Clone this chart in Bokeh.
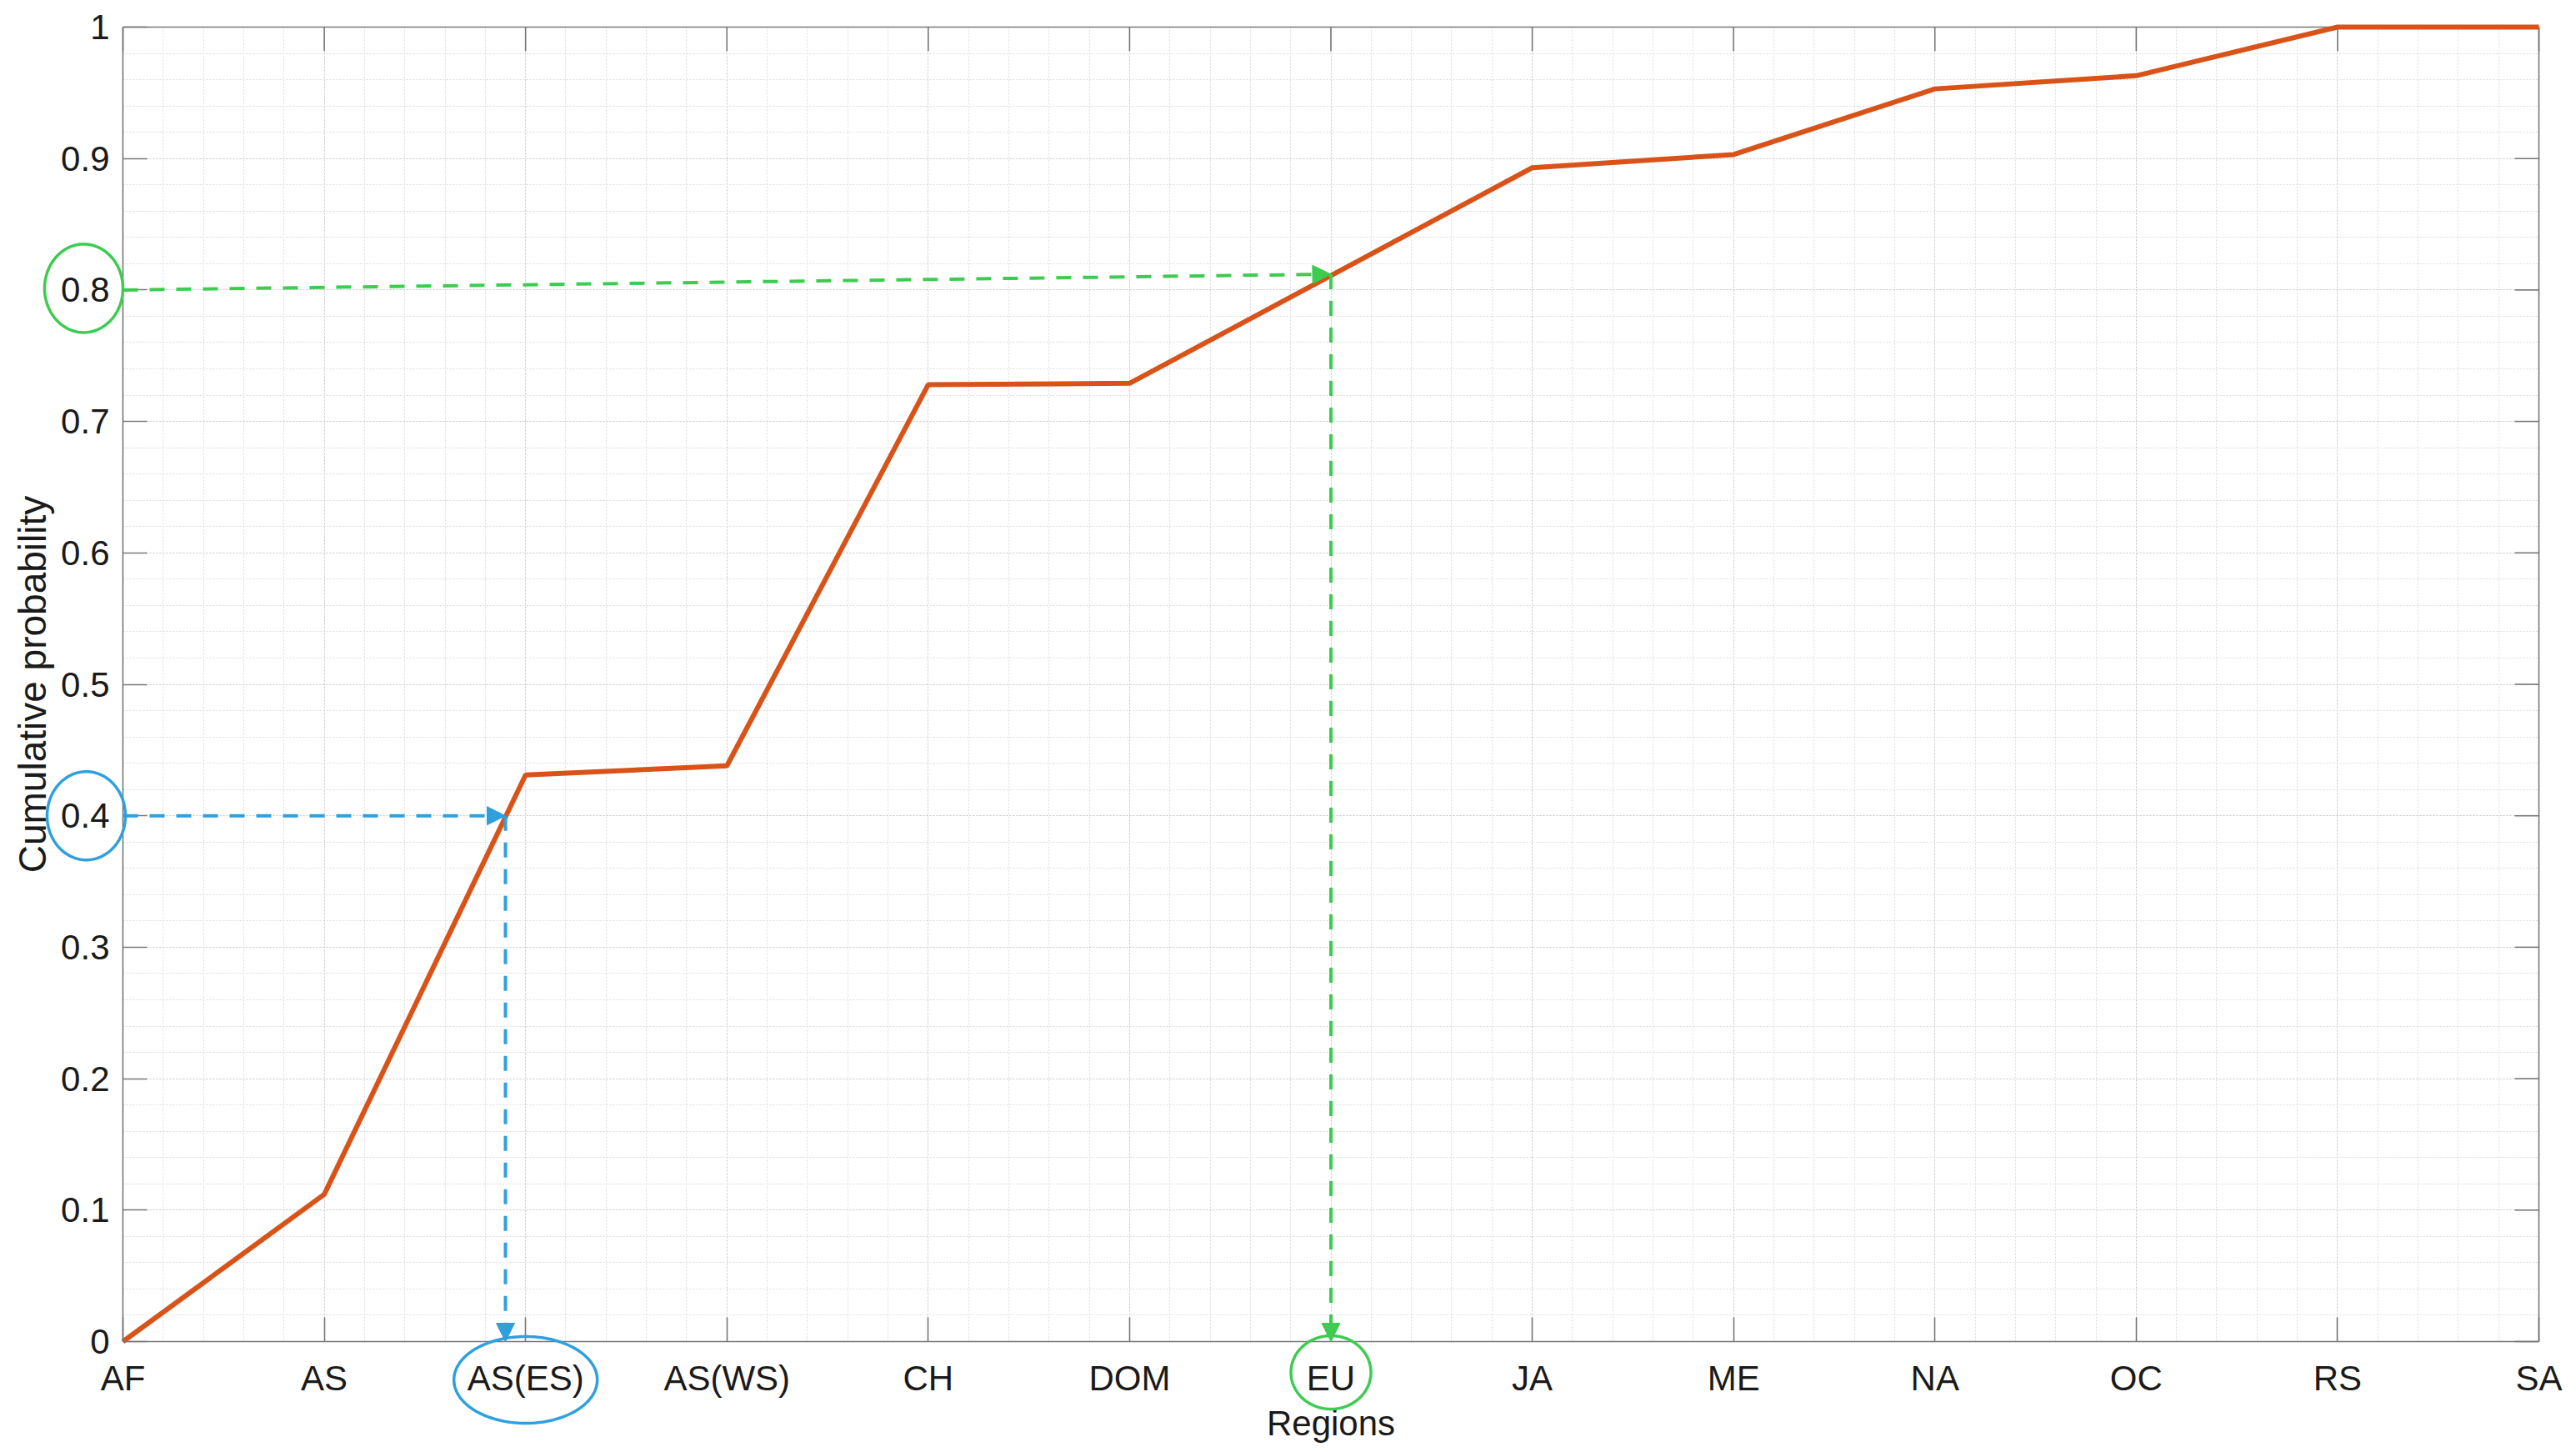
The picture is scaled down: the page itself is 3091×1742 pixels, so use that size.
import numpy as np
from bokeh.plotting import figure
from bokeh.models import (Range1d, FixedTicker, LinearAxis, Grid, Arrow,
                          NormalHead, PolyAnnotation)
from bokeh.embed import file_html
from bokeh.resources import INLINE

# ---------------- data ----------------
regions = ["AF", "AS", "AS(ES)", "AS(WS)", "CH", "DOM", "EU",
           "JA", "ME", "NA", "OC", "RS", "SA"]
cum_prob = [0.0, 0.112, 0.431, 0.438, 0.728, 0.729, 0.811,
            0.893, 0.903, 0.953, 0.963, 1.0, 1.0]
y_ticks = [0.0, 0.1, 0.2, 0.3, 0.4, 0.5, 0.6, 0.7, 0.8, 0.9, 1.0]
y_tick_labels = ["0", "0.1", "0.2", "0.3", "0.4", "0.5", "0.6",
                 "0.7", "0.8", "0.9", "1"]

# lookup guides (probability -> region)
blue_prob = 0.4
blue_hit_x = 1.9
green_prob = 0.8
green_hit_x = 6.0
green_hit_prob = 0.812

x_idx = list(range(len(regions)))
x_max = len(regions) - 1

# ---------------- layout ----------------
# the frame covers the whole canvas; the axes box sits inside it
W, H = 3085, 1740
BOX_L, BOX_R, BOX_T, BOX_B = 147, 3046, 32, 1609
px_x = x_max / (BOX_R - BOX_L)      # data units per pixel (x)
px_y = 1.0 / (BOX_B - BOX_T)        # data units per pixel (y)
TICK = 29

FONT = "Liberation Sans"
AX_COL = "#777777"
TXT = "#1a1a1a"
ORANGE = "#D95319"
BLUE = "#2FA0DE"
GREEN = "#3DCB50"

p = figure(width=W, height=H, output_backend="svg", toolbar_location=None,
           x_range=Range1d(-BOX_L * px_x, x_max + (W - BOX_R) * px_x),
           y_range=Range1d(-(H - BOX_B) * px_y, 1 + BOX_T * px_y),
           x_axis_type=None, y_axis_type=None,
           min_border=0)
p.outline_line_color = None
p.background_fill_color = "white"
p.border_fill_color = "white"

xt = FixedTicker(ticks=x_idx, minor_ticks=[i * 0.2 for i in range(5 * x_max + 1)])
yt = FixedTicker(ticks=y_ticks, minor_ticks=[i * 0.02 for i in range(51)])


def style_axis(ax):
    ax.axis_line_color = AX_COL
    ax.axis_line_width = 1.6
    ax.major_tick_line_color = AX_COL
    ax.major_tick_line_width = 1.6
    ax.major_tick_in = TICK
    ax.major_tick_out = 0
    ax.minor_tick_line_color = None
    ax.major_label_text_font = FONT
    ax.major_label_text_color = TXT
    ax.major_label_text_font_size = "42px"
    ax.axis_label_text_font = FONT
    ax.axis_label_text_font_style = "normal"
    ax.axis_label_text_color = TXT


xb = LinearAxis(ticker=xt, axis_label="Regions", fixed_location=0,
                bounds=(0, x_max),
                major_label_overrides=dict(zip(x_idx, regions)))
style_axis(xb)
xb.major_label_standoff = 16
xb.axis_label_standoff = 4
xb.axis_label_text_font_size = "42px"
p.add_layout(xb, "below")

yl = LinearAxis(ticker=yt, axis_label="Cumulative probability", fixed_location=0,
                bounds=(0, 1),
                major_label_overrides=dict(zip(y_ticks, y_tick_labels)))
style_axis(yl)
yl.major_label_standoff = 12
yl.axis_label_standoff = 5
yl.axis_label_text_font_size = "46px"
p.add_layout(yl, "left")

# grid (dotted), limited to the axes box
has_cross = "cross_bounds" in Grid.properties()
for dim, tk, cb in ((0, xt, (0, 1)), (1, yt, (0, x_max))):
    g = Grid(dimension=dim, ticker=tk, bounds=((0, x_max) if dim == 0 else (0, 1)))
    if has_cross:
        g.cross_bounds = cb
    g.grid_line_color = "#cccccc"
    g.grid_line_dash = "2 2"
    g.grid_line_width = 1
    g.minor_grid_line_color = "#dcdcdc"
    g.minor_grid_line_dash = "2 2"
    g.minor_grid_line_width = 1
    if not has_cross:
        g.visible = False
    p.add_layout(g)

if not has_cross:
    mx = [i * 0.2 for i in range(5 * x_max + 1)]
    my = [i * 0.02 for i in range(51)]
    p.segment(x0=mx, y0=[0] * len(mx), x1=mx, y1=[1] * len(mx),
              line_color="#dcdcdc", line_dash="2 2", line_width=1)
    p.segment(x0=[0] * len(my), y0=my, x1=[x_max] * len(my), y1=my,
              line_color="#dcdcdc", line_dash="2 2", line_width=1)

# box: top and right edges with inward ticks
p.segment(x0=[0, x_max], y0=[1, 0], x1=[x_max, x_max], y1=[1, 1],
          line_color=AX_COL, line_width=1.6)
n = len(x_idx)
p.segment(x0=x_idx, y0=[1.0] * n, x1=x_idx, y1=[1.0 - TICK * px_y] * n,
          line_color=AX_COL, line_width=1.6)
m = len(y_ticks)
p.segment(x0=[x_max] * m, y0=y_ticks, x1=[x_max - TICK * px_x] * m, y1=y_ticks,
          line_color=AX_COL, line_width=1.6)

# main curve
p.line(x_idx, cum_prob, line_color=ORANGE, line_width=6)

# lookup arrows
def guide(x0, y0, x1, y1, col):
    p.add_layout(Arrow(x_start=x0, y_start=y0, x_end=x1, y_end=y1,
                       line_color=col, line_width=4, line_dash="18 14",
                       end=NormalHead(size=22, fill_color=col, line_color=col,
                                      line_width=1)))

guide(0, blue_prob, blue_hit_x, blue_prob, BLUE)
guide(blue_hit_x, blue_prob, blue_hit_x, 0, BLUE)
guide(0, green_prob, green_hit_x, green_hit_prob, GREEN)
guide(green_hit_x, green_hit_prob, green_hit_x, 0, GREEN)

# highlight ellipses around tick labels:
# (anchor_x, anchor_y, dx_px, dy_px, rx_px, ry_px, colour)
t = np.linspace(0, 2 * np.pi, 160)
ellipses = [
    (0, blue_prob, -44, 0, 47, 53, BLUE),
    (0, green_prob, -47, 2, 47, 53, GREEN),
    (2, 0, 0, -46, 86, 52, BLUE),
    (green_hit_x, 0, 0, -37, 48, 44, GREEN),
]
for ax_, ay_, dx, dy, rx, ry, col in ellipses:
    cx = ax_ + dx * px_x
    cy = ay_ + dy * px_y
    xs = list(cx + rx * px_x * np.cos(t))
    ys = list(cy + ry * px_y * np.sin(t))
    p.add_layout(PolyAnnotation(xs=xs, ys=ys, fill_color=None, fill_alpha=0,
                                line_color=col, line_alpha=1.0, line_width=3.5,
                                level="overlay"))

open("out.html", "w").write(file_html(p, INLINE))
